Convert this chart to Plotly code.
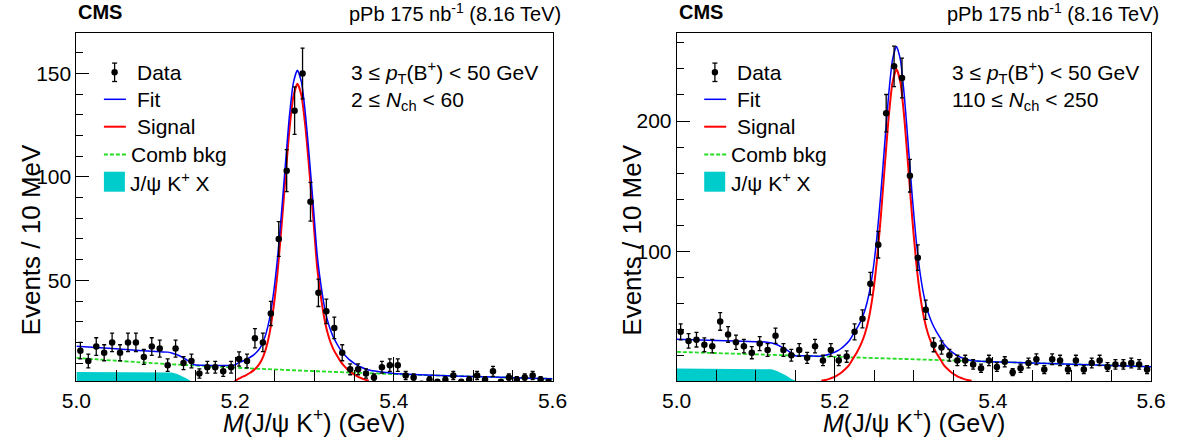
import numpy as np
import plotly.graph_objects as go

# ---------------- data ----------------
BIN_LO, BIN_W, NBINS = 5.0, 0.01, 60
bin_centers = [round(BIN_LO + BIN_W * (i + 0.5), 4) for i in range(NBINS)]

counts_low = [16, 11, 18, 15, 20, 15, 20, 20, 13, 18,
              17, 9, 17, 10, 11, 5, 8, 8, 6, 8,
              12, 11, 22, 20, 34, 70, 103, 132, 150, 88,
              44, 35, 27, 15, 7, 7, 5, 3, 8, 9,
              9, 4, 3, 0, 2, 1, 2, 4, 1, 2,
              4, 2, 6, 1, 3, 2, 3, 4, 2, 1]
counts_high = [38, 31, 32, 28, 27, 46, 36, 30, 27, 22,
               29, 24, 35, 24, 20, 24, 18, 27, 16, 24,
               16, 19, 38, 48, 75, 105, 206, 242, 233, 158,
               95, 55, 28, 26, 20, 16, 16, 13, 10, 16,
               11, 15, 7, 10, 14, 17, 9, 17, 16, 9,
               16, 9, 14, 16, 11, 13, 13, 14, 13, 9]

# fit curves (low multiplicity panel)
sig_x_low = [5.1995, 5.2035, 5.2085, 5.2135, 5.2185, 5.2235, 5.2285, 5.2335, 5.2385, 5.2435,
             5.2485, 5.2535, 5.2585, 5.2635, 5.2685, 5.2735, 5.2785, 5.2835, 5.2885, 5.2935,
             5.2985, 5.3035, 5.3085, 5.3135, 5.3185, 5.3235, 5.3285, 5.3335, 5.3385, 5.3435,
             5.3485, 5.3535, 5.3585, 5.3635, 5.3685]
sig_y_low = [1.3, 2.3, 3.2, 4.1, 5.2, 6.6, 8.5, 11.5, 16.5, 24.5,
             37, 54, 76, 100, 123, 139, 145, 139.6, 124.6, 103.4,
             80.2, 56, 41, 29.5, 22, 17, 13.5, 10.5, 8.2, 6.3,
             4.9, 3.7, 2.8, 2.1, 1.5]
fit_x_low = [5.0, 5.05, 5.1, 5.115, 5.12, 5.127, 5.133, 5.139, 5.144, 5.149, 5.16, 5.17, 5.18, 5.19,
             5.1995, 5.2035, 5.2085, 5.2135, 5.2185, 5.2235, 5.2285, 5.2335, 5.2385, 5.2435,
             5.2485, 5.2535, 5.2585, 5.2635, 5.2685, 5.2735, 5.2785, 5.2835, 5.2885, 5.2935,
             5.2985, 5.3035, 5.3085, 5.3135, 5.3185, 5.3235, 5.3285, 5.3335, 5.3385, 5.3435,
             5.3485, 5.3535, 5.3585, 5.3635, 5.3685,
             5.38, 5.39, 5.4, 5.45, 5.5, 5.55, 5.6]
fit_y_low = [18.2, 16.9, 15.6, 15.3, 14.9, 14.05, 12.95, 11.6, 10.3, 9.2, 8.9, 8.85, 8.85, 8.8,
             9.1, 10.0, 10.8, 11.6, 12.7, 14.0, 15.8, 18.7, 23.7, 31.6,
             44.0, 60.9, 82.8, 106.7, 129.6, 145.6, 151.5, 146.0, 130.9, 109.6,
             86.3, 62.1, 47.0, 35.4, 27.9, 22.8, 19.2, 16.1, 13.8, 11.8,
             10.3, 9.05, 8.1, 7.3, 6.65,
             5.9, 5.4, 5.0, 4.1, 3.5, 2.95, 2.4]
comb_x_low = [5.0, 5.1, 5.2, 5.3, 5.4, 5.5, 5.6]
comb_y_low = [12.5, 9.9, 7.8, 6.1, 4.7, 3.5, 2.4]
jpsix_x_low = [5.0, 5.112, 5.12, 5.127, 5.133, 5.139, 5.144, 5.149, 5.152]
jpsix_y_low = [5.7, 5.7, 5.4, 4.7, 3.7, 2.5, 1.3, 0.3, 0.0]

# fit curves (high multiplicity panel)
sig_x_high = [5.183, 5.188, 5.193, 5.198, 5.203, 5.208, 5.213, 5.218, 5.223, 5.228,
              5.233, 5.238, 5.243, 5.248, 5.253, 5.258, 5.263, 5.268, 5.273, 5.278,
              5.283, 5.288, 5.293, 5.298, 5.303, 5.308, 5.313, 5.318, 5.323, 5.328,
              5.333, 5.338, 5.343, 5.348, 5.353, 5.358, 5.363, 5.368, 5.373]
sig_y_high = [0.4, 1.0, 1.9, 3.0, 4.6, 6.6, 9.3, 12.5, 17.4, 22.3,
              28.3, 36.3, 48.3, 66, 91.4, 125, 163.9, 201.8, 229.7, 240,
              229.7, 201.8, 163.9, 125, 91.4, 66, 48.3, 36.3, 28.3, 22.3,
              17.4, 12.5, 9.3, 6.6, 4.6, 3.0, 1.9, 1.0, 0.4]
fit_x_high = [5.0, 5.05, 5.1, 5.112, 5.12, 5.127, 5.133, 5.139, 5.144, 5.15, 5.16, 5.17, 5.178,
              5.183, 5.188, 5.193, 5.198, 5.203, 5.208, 5.213, 5.218, 5.223, 5.228,
              5.233, 5.238, 5.243, 5.248, 5.253, 5.258, 5.263, 5.268, 5.273, 5.278,
              5.283, 5.288, 5.293, 5.298, 5.303, 5.308, 5.313, 5.318, 5.323, 5.328,
              5.333, 5.338, 5.343, 5.348, 5.353, 5.358, 5.363, 5.368, 5.373,
              5.39, 5.42, 5.5, 5.6]
fit_y_high = [32.4, 31.4, 30.4, 30.2, 29.5, 28.1, 26.3, 24.1, 22.0, 19.7, 19.55, 19.4, 19.3,
              19.5, 20.0, 20.8, 21.8, 23.3, 25.2, 27.8, 30.9, 35.8, 40.6,
              46.5, 54.4, 66.3, 83.9, 109.2, 142.7, 181.5, 219.3, 247.1, 257.3,
              246.9, 218.9, 180.9, 141.9, 108.2, 82.7, 64.9, 52.9, 44.8, 38.7,
              33.7, 28.7, 25.4, 22.6, 20.5, 18.8, 17.6, 16.6, 15.9,
              15.2, 14.6, 13.1, 11.2]
comb_x_high = [5.0, 5.2, 5.4, 5.6]
comb_y_high = [22.6, 18.8, 15.0, 11.2]
jpsix_x_high = [5.0, 5.112, 5.12, 5.127, 5.133, 5.139, 5.144, 5.149, 5.152]
jpsix_y_high = [9.8, 9.8, 9.3, 8.0, 6.3, 4.2, 2.2, 0.5, 0.0]

# text
cms_label = "<b>CMS</b>"
lumi_label = "pPb 175 nb<sup>-1</sup> (8.16 TeV)"
pt_label = "3 ≤ <i>p</i><sub>T</sub>(B<sup>+</sup>) &lt; 50 GeV"
nch_low_label = "2 ≤ <i>N</i><sub>ch</sub> &lt; 60"
nch_high_label = "110 ≤ <i>N</i><sub>ch</sub> &lt; 250"
x_title = "<i>M</i>(J/ψ K<sup>+</sup>) (GeV)"
y_title = "Events / 10 MeV"
legend_names = ["Data", "Fit", "Signal", "Comb bkg", "J/ψ K<sup>+</sup> X"]

# ---------------- style ----------------
FONT = "Liberation Sans, Arial, Helvetica, sans-serif"
W, H = 1177, 441
BLUE, RED, GREEN, CYAN = "#0000FF", "#FF0000", "#22DD22", "#00CCCC"

panels = [
    dict(ax="", counts=counts_low, sig=(sig_x_low, sig_y_low),
         fit=(fit_x_low, fit_y_low), comb=(comb_x_low, comb_y_low),
         jx=(jpsix_x_low, jpsix_y_low), yr=[1.2, 169.8], ytv=[50, 100, 150], ymd=10,
         left=76.4, right=552.5, nch=nch_low_label),
    dict(ax="2", counts=counts_high, sig=(sig_x_high, sig_y_high),
         fit=(fit_x_high, fit_y_high), comb=(comb_x_high, comb_y_high),
         jx=(jpsix_x_high, jpsix_y_high), yr=[0, 268], ytv=[100, 200], ymd=20,
         left=676.7, right=1151.0, nch=nch_high_label),
]
TOP, BOT = 32.5, 381.3


def px(x):
    return x / W


def py(y):
    return 1 - y / H


ydom = [py(BOT), py(TOP)]

fig = go.Figure()
annotations, shapes = [], []
for p in panels:
    xa, ya = "x" + p["ax"], "y" + p["ax"]
    fig.add_trace(go.Scatter(x=p["jx"][0], y=p["jx"][1], mode="lines", fill="tozeroy",
                             fillcolor=CYAN, line=dict(color=CYAN, width=0),
                             showlegend=False, xaxis=xa, yaxis=ya))
    fig.add_trace(go.Scatter(x=p["comb"][0], y=p["comb"][1], mode="lines",
                             line=dict(color=GREEN, width=1.8, dash="4px,2px", shape="spline"),
                             showlegend=False, xaxis=xa, yaxis=ya))
    fig.add_trace(go.Scatter(x=p["sig"][0], y=p["sig"][1], mode="lines",
                             line=dict(color=RED, width=2, shape="spline", smoothing=0.6),
                             showlegend=False, xaxis=xa, yaxis=ya))
    fig.add_trace(go.Scatter(x=p["fit"][0], y=p["fit"][1], mode="lines",
                             line=dict(color=BLUE, width=1.5, shape="spline", smoothing=0.6),
                             showlegend=False, xaxis=xa, yaxis=ya))
    c = np.array(p["counts"], dtype=float)
    fig.add_trace(go.Scatter(x=bin_centers, y=c, mode="markers",
                             marker=dict(color="black", size=6.5),
                             error_y=dict(type="data", array=np.sqrt(c), color="black",
                                          thickness=1.3, width=2),
                             showlegend=False, xaxis=xa, yaxis=ya))

    axis_common = dict(showline=True, linecolor="black", linewidth=1, mirror=True,
                       ticks="inside", tickcolor="black", showgrid=False, zeroline=False,
                       automargin=False,
                       tickfont=dict(family=FONT, size=21, color="black"))
    fig.update_layout(**{
        ("xaxis" + p["ax"]): dict(domain=[px(p["left"]), px(p["right"])], range=[5.0, 5.6],
                                  anchor=ya, tickvals=[5.0, 5.2, 5.4, 5.6], tickformat=".1f",
                                  ticklen=24, tickwidth=1.3,
                                  minor=dict(dtick=0.05, tick0=5.0, ticklen=11, ticks="inside",
                                             tickcolor="black", tickwidth=1),
                                  **axis_common),
        ("yaxis" + p["ax"]): dict(domain=ydom, range=p["yr"], anchor=xa,
                                  tickvals=p["ytv"], ticklen=13, tickwidth=1.3,
                                  minor=dict(dtick=p["ymd"], tick0=0, ticklen=7, ticks="inside",
                                             tickcolor="black", tickwidth=1),
                                  **axis_common),
    })

    L, R = p["left"], p["right"]
    xc = (L + R) / 2
    annotations += [
        dict(text=cms_label, x=px(L), y=py(12.5), xanchor="left", yanchor="middle",
             font=dict(family=FONT, size=20, color="black")),
        dict(text=lumi_label, x=px(R + 10), y=py(12.5), xanchor="right", yanchor="middle",
             font=dict(family=FONT, size=20, color="black")),
        dict(text=pt_label, x=px(L + 273), y=py(72.5), xanchor="left", yanchor="middle",
             font=dict(family=FONT, size=21, color="black")),
        dict(text=p["nch"], x=px(L + 273), y=py(101.5), xanchor="left", yanchor="middle",
             font=dict(family=FONT, size=21, color="black")),
        dict(text=x_title, x=px(xc), y=py(421), xanchor="center", yanchor="middle",
             font=dict(family=FONT, size=25, color="black")),
        dict(text=y_title, x=px(L - 45), y=py(240), xanchor="center", yanchor="middle",
             textangle=-90, font=dict(family=FONT, size=26, color="black")),
    ]

    # hand-drawn legend (ROOT style)
    sx0, sx1 = L + 27.5, L + 49.5
    rows = [72.3, 99.3, 126.7, 154.5, 181.7]
    text_x = [L + 58.5, L + 58.5, L + 58.5, L + 52.5, L + 52.0]
    mx = L + 38.2
    shapes += [
        dict(type="line", x0=px(mx), x1=px(mx), y0=py(rows[0] - 9.2), y1=py(rows[0] + 9.2),
             line=dict(color="black", width=1.3)),
        dict(type="line", x0=px(mx - 2.5), x1=px(mx + 2.5), y0=py(rows[0] - 9.2), y1=py(rows[0] - 9.2),
             line=dict(color="black", width=1.3)),
        dict(type="line", x0=px(mx - 2.5), x1=px(mx + 2.5), y0=py(rows[0] + 9.2), y1=py(rows[0] + 9.2),
             line=dict(color="black", width=1.3)),
        dict(type="circle", x0=px(mx - 3.2), x1=px(mx + 3.2), y0=py(rows[0] + 3.2), y1=py(rows[0] - 3.2),
             fillcolor="black", line=dict(color="black", width=0)),
        dict(type="line", x0=px(sx0), x1=px(sx1), y0=py(rows[1]), y1=py(rows[1]),
             line=dict(color=BLUE, width=1.5)),
        dict(type="line", x0=px(sx0), x1=px(sx1), y0=py(rows[2]), y1=py(rows[2]),
             line=dict(color=RED, width=2)),
        dict(type="line", x0=px(sx0), x1=px(sx1), y0=py(rows[3]), y1=py(rows[3]),
             line=dict(color=GREEN, width=1.8, dash="4px,2px")),
        dict(type="rect", x0=px(sx0), x1=px(sx1 - 1), y0=py(rows[4] + 10), y1=py(rows[4] - 10),
             fillcolor=CYAN, line=dict(width=0)),
    ]
    for name, ty, tx in zip(legend_names, rows, text_x):
        annotations.append(dict(text=name, x=px(tx), y=py(ty), xanchor="left", yanchor="middle",
                                font=dict(family=FONT, size=21, color="black")))

fig.update_layout(
    template="none",
    width=W, height=H, margin=dict(l=0, r=0, t=0, b=0, autoexpand=False),
    paper_bgcolor="white", plot_bgcolor="white", showlegend=False,
    annotations=[dict(xref="paper", yref="paper", showarrow=False, **a) for a in annotations],
    shapes=[dict(xref="paper", yref="paper", **s) for s in shapes],
)

# the figure fills the whole window: drop the default page margin around it
fig.write_html("out.html", config={"displayModeBar": False},
               post_script="document.body.style.margin='0';")
